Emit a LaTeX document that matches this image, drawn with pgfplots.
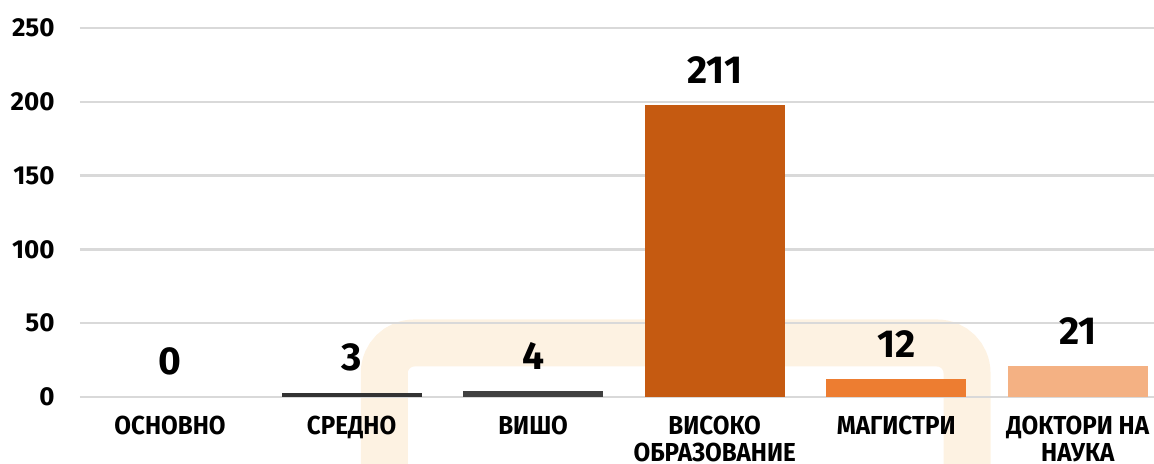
\documentclass[border=0pt]{standalone}
\usepackage{fontspec}
\setmainfont{Fira Sans}
\newfontfamily\condfont{Fira Sans}[FakeStretch=0.93]
\usepackage{pgfplots}
\pgfplotsset{compat=1.18}

\definecolor{gridc}{HTML}{D9D9D9}
\definecolor{bandc}{HTML}{FDF2E2}
\definecolor{darkA}{HTML}{333333}
\definecolor{darkB}{HTML}{404040}
\definecolor{orA}{HTML}{C55A11}
\definecolor{orB}{HTML}{ED7D31}
\definecolor{orC}{HTML}{F4B183}

\pgfplotsset{base/.style={
  at={(0,0)}, anchor=south west,
  scale only axis, width=537pt, height=184.5pt,
  xmin=-0.496, xmax=5.42, ymin=0, ymax=250, clip=false}}

\begin{document}
\begin{tikzpicture}
\path[use as bounding box] (-40pt,-33.5pt) rectangle (537pt,198.5pt);
% background band
\begin{axis}[base, hide axis]
\addplot[draw=none] coordinates {(0,0) (5,250)};
\draw[bandc, line width=23.5pt, rounded corners=15pt]
  (axis cs:1.18,-60) -- (axis cs:1.18,36.6) -- (axis cs:4.39,36.6) -- (axis cs:4.39,-60);
\end{axis}
\begin{axis}[
  base,
  ybar, bar width=70pt, bar shift=0pt,
  axis line style={draw=none}, major tick length=0pt,
  ytick={0,50,...,250}, ymajorgrids, grid style={gridc, line width=1.2pt},
  xtick={0,...,5},
  xticklabels={ОСНОВНО, СРЕДНО, ВИШО, ВИСОКО\\ОБРАЗОВАНИЕ, МАГИСТРИ, ДОКТОРИ НА\\НАУКА},
  xticklabel style={font=\condfont\bfseries\fontsize{13}{13.2}\selectfont, align=center,
    anchor=north, inner sep=0pt, yshift=-9.5pt},
  yticklabel style={font=\bfseries\fontsize{13}{14}\selectfont, anchor=east,
    inner sep=0pt, xshift=-12.5pt},
  /pgf/number format/assume math mode=true,
  point meta=explicit symbolic,
  nodes near coords,
  every node near coord/.append style={font=\bfseries\fontsize{19.5}{20}\selectfont,
    anchor=south, inner sep=0pt, yshift=10.5pt, text=black},
]
\addplot[draw=none, fill=none] coordinates {(0,0) [0]};
\addplot[draw=none, fill=darkA] coordinates {(1,3) [3]};
\addplot[draw=none, fill=darkB] coordinates {(2,4) [4]};
\addplot[draw=none, fill=orA] coordinates {(3,198) [211]};
\addplot[draw=none, fill=orB] coordinates {(4,12) [12]};
\addplot[draw=none, fill=orC] coordinates {(5,21) [21]};
\end{axis}
\end{tikzpicture}
\end{document}
